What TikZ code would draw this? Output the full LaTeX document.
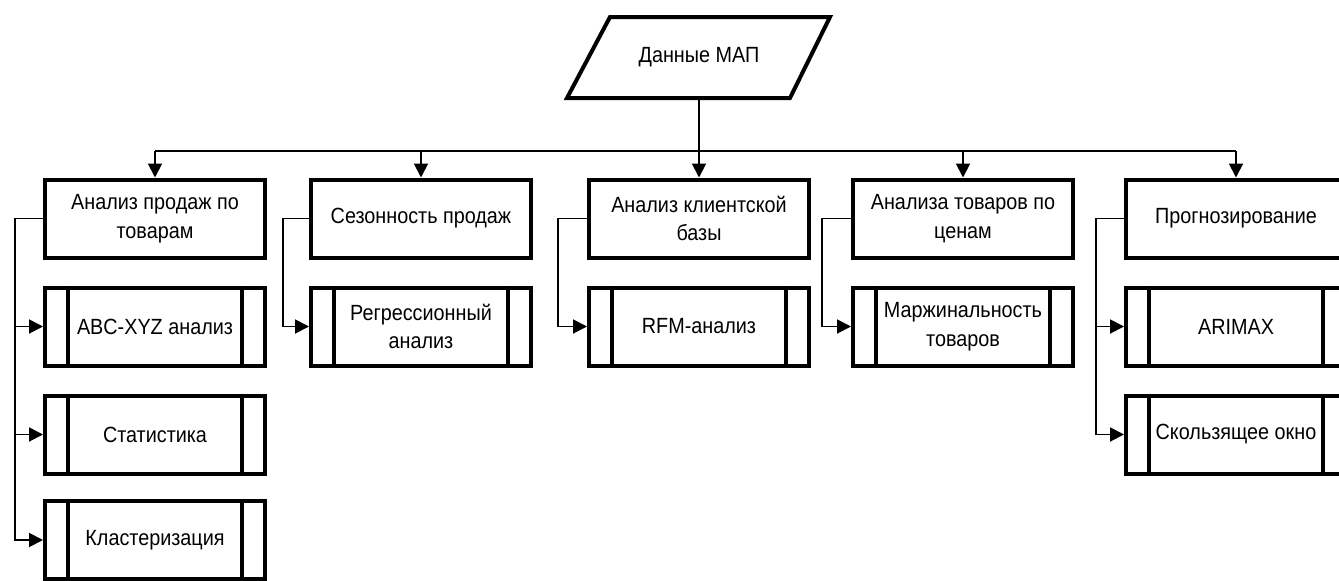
\documentclass[tikz,border=0pt]{standalone}
\usepackage{fontspec}
\setmainfont[FakeStretch=0.9]{Liberation Sans}
\usetikzlibrary{arrows.meta,calc}
\begin{document}
\begin{tikzpicture}[x=1pt,y=-1pt,
  box/.style={draw,line width=4pt,minimum width=220pt,minimum height=78pt,align=center,
    font=\fontsize{22}{28.5}\selectfont,inner sep=0pt},
  thin/.style={line width=1.9pt},
  conn/.style={thin,-{Triangle[length=14pt,width=14pt]}},
  bar/.style={line width=4pt},
]
\useasboundingbox (0,0) rectangle (1339,581);
\clip (0,0) rectangle (1339,581);
\fill[white] (0,0) rectangle (1339,581);

% data node
\node[minimum width=200pt,minimum height=81pt,inner sep=0pt,font=\fontsize{22}{28.5}\selectfont] (data) at (699,57.5) {Данные МАП};
\draw[bar,line join=miter] (610,17) -- (830,17) -- (790,98) -- (567,98) -- cycle;

% top boxes
\node[box] (t1) at (155,218.5) {Анализ продаж по\\товарам};
\node[box] (t2) at (421,218.5) {Сезонность продаж};
\node[box] (t3) at (699,218.5) {Анализ клиентской\\базы};
\node[box] (t4) at (963,218.5) {Анализа товаров по\\ценам};
\node[box] (t5) at (1236,218.5) {Прогнозирование};

% sub boxes
\newcommand{\subbox}[4]{%
  \node[box] (#1) at (#2,#3) {#4};
  \draw[bar] ([xshift=25pt]#1.north west) -- ([xshift=25pt]#1.south west);
  \draw[bar] ([xshift=-25pt]#1.north east) -- ([xshift=-25pt]#1.south east);
}
\subbox{s11}{155}{326.5}{ABC-XYZ анализ}
\subbox{s12}{155}{434.5}{Статистика}
\subbox{s13}{155}{540}{Кластеризация}
\subbox{s21}{421}{326.5}{Регрессионный\\анализ}
\subbox{s31}{699}{326.5}{RFM-анализ}
\subbox{s41}{963}{326.5}{Маржинальность\\товаров}
\subbox{s51}{1236}{326.5}{ARIMAX}
\subbox{s52}{1236}{434.5}{Скользящее окно}

% bus
\coordinate (b1) at (155,151);
\coordinate (b2) at (421,151);
\coordinate (b4) at (963,151);
\coordinate (b5) at (1236,151);
\draw[thin] (b1) -- (b5);
\draw[conn] (data.south) -- (t3.north);
\draw[conn] (b1) -- (t1.north);
\draw[conn] (b2) -- (t2.north);
\draw[conn] (b4) -- (t4.north);
\draw[conn] (b5) -- (t5.north);

% side connectors
\draw[conn] (t1.west) -- ++(-28,0) |- (s11.west);
\draw[conn] (t1.west) -- ++(-28,0) |- (s12.west);
\draw[conn] (t1.west) -- ++(-28,0) |- (s13.west);
\draw[conn] (t2.west) -- ++(-26,0) |- (s21.west);
\draw[conn] (t3.west) -- ++(-29,0) |- (s31.west);
\draw[conn] (t4.west) -- ++(-29,0) |- (s41.west);
\draw[conn] (t5.west) -- ++(-28,0) |- (s51.west);
\draw[conn] (t5.west) -- ++(-28,0) |- (s52.west);
\end{tikzpicture}
\end{document}
